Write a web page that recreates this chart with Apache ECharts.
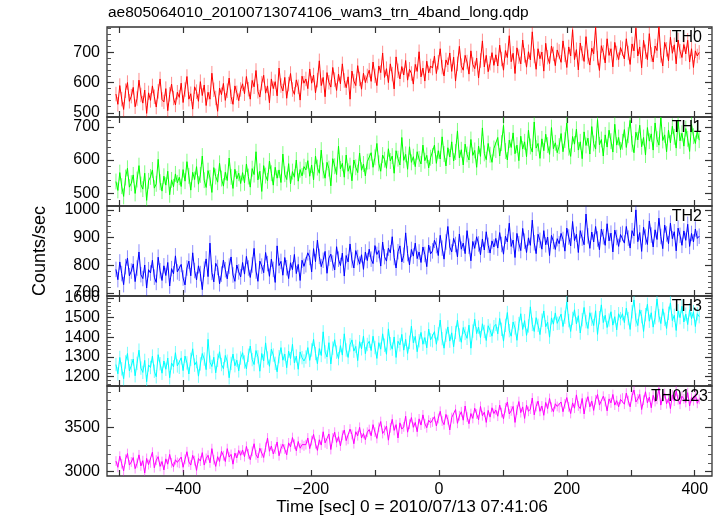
<!DOCTYPE html>
<html><head><meta charset="utf-8">
<script src="https://cdn.jsdelivr.net/npm/echarts@6/dist/echarts.min.js"></script>
<style>html,body{margin:0;padding:0;background:#fff}#c{width:723px;height:516px}</style>
</head><body><div id="c"></div>
<script>
// ---- data ----
const chartTitle = 'ae805064010_20100713074106_wam3_trn_4band_long.qdp';
const xTitle = 'Time [sec] 0 = 2010/07/13 07:41:06';
const yTitle = 'Counts/sec';
const bandNames = ['TH0', 'TH1', 'TH2', 'TH3', 'TH0123'];
const timeStart = -505;   // first bin time (s)
const timeStep = 3;       // bin width (s)
const bandErrors = [24, 24, 28, 34, 55];  // typical 1-sigma error per bin
const xTickLabels = [-400, -200, 0, 200, 400];
const xTickValues = [-500, -400, -300, -200, -100, 0, 100, 200, 300, 400];
const yTickLabels = [[500, 600, 700], [500, 600, 700], [700, 800, 900, 1000], [1200, 1300, 1400, 1500, 1600], [3000, 3500]];

const th0 = [562,528,590,545,511,573,600,538,555,584,520,547,608,559,532,575,498,566,541,589,553,519,571,612,544,536,580,507,561,595,549,526,568,
551,598,534,577,620,545,563,512,586,570,538,603,557,592,524,568,545,631,576,549,505,582,560,597,541,573,615,553,528,589,566,540,577,
596,563,620,578,545,607,586,640,571,552,598,624,565,589,533,612,580,603,556,648,590,572,617,548,595,630,577,561,609,586,542,621,598,
612,580,645,598,625,566,608,672,590,617,553,633,601,585,650,610,574,628,596,662,607,583,619,545,638,605,590,656,612,578,631,600,622,
641,604,668,622,590,655,633,698,617,646,600,662,628,579,685,639,612,653,625,673,608,644,630,595,660,637,702,619,648,605,671,632,655,
648,688,630,667,712,651,622,675,659,698,637,684,605,662,720,656,641,690,668,628,705,660,646,681,615,673,738,652,690,636,664,699,657,
692,655,724,678,641,706,683,755,669,697,630,715,686,662,741,690,651,702,675,768,688,644,712,679,701,638,730,684,663,721,695,656,708,
703,667,738,692,650,718,688,775,676,709,642,731,697,670,752,685,658,714,695,783,681,640,722,700,665,745,690,712,652,733,698,676,716,
712,678,745,698,660,728,705,780,688,718,649,740,702,676,762,693,668,721,706,785,690,655,733,710,672,750,697,725,662,741,704,683,726,695,740,668,712,650,705,688,700];

const th1 = [535,508,562,521,490,547,575,518,530,555,499,541,583,526,512,560,478,537,549,570,515,528,602,533,506,551,524,566,495,540,519,558,531,
548,520,571,536,595,552,509,563,541,580,527,555,612,539,517,568,546,502,577,550,533,590,544,521,563,538,606,549,514,572,543,560,529,
562,531,588,550,518,574,556,625,540,566,505,583,553,537,597,560,524,578,545,570,532,618,557,541,589,528,565,548,600,536,571,552,580,
570,598,551,585,540,612,577,560,630,568,545,593,574,522,604,581,556,642,573,590,548,615,566,583,537,600,578,562,621,569,588,552,595,
596,622,578,608,650,590,566,615,601,575,634,597,612,560,628,604,585,668,599,617,572,640,593,610,580,625,603,588,645,598,614,576,607,
612,645,590,628,603,670,618,582,637,609,655,597,624,688,606,631,585,648,617,600,662,614,629,578,642,611,697,620,601,650,616,593,635,
630,668,612,651,705,627,600,660,638,682,619,645,598,672,633,655,610,690,641,624,715,636,650,605,664,628,678,645,617,698,634,652,622,
642,680,625,660,712,637,611,671,648,693,630,655,604,685,644,666,618,701,650,633,722,646,662,612,676,639,690,657,624,708,645,668,631,
655,692,638,675,720,649,622,684,661,705,640,668,615,698,657,679,630,712,663,645,728,659,676,625,690,652,702,670,636,718,658,681,642,695,664,626,708,672,650,688,660];

const th2 = [785,748,812,770,730,795,826,762,779,805,741,790,848,766,752,801,718,784,772,818,757,738,829,780,745,798,763,810,725,788,769,834,776,
771,803,754,729,790,815,762,845,781,747,798,770,712,786,823,759,880,774,740,807,792,733,768,819,784,751,797,830,765,742,801,776,758,
810,768,832,790,756,801,861,779,742,815,797,773,846,806,760,822,785,738,870,799,814,764,828,791,752,809,784,839,770,803,745,818,796,
802,845,828,776,860,813,891,832,795,818,850,771,826,840,808,783,867,822,799,844,761,835,812,877,819,790,853,828,804,838,785,848,817,
858,822,806,871,839,853,797,884,831,815,862,845,903,828,790,849,870,812,836,917,842,801,857,833,880,824,848,810,866,839,795,873,841,
852,890,871,835,908,862,822,884,940,866,848,897,875,830,913,858,880,842,925,869,816,886,861,903,877,838,895,855,921,872,844,888,866,
897,862,918,875,840,905,884,952,868,891,828,915,878,853,933,887,846,899,872,963,881,842,912,890,858,925,874,902,835,908,886,857,896,
878,915,893,851,934,902,870,958,889,912,846,925,898,874,985,906,861,920,884,940,895,856,931,903,872,950,888,916,848,927,900,868,911,
915,880,940,898,862,925,906,1000,885,918,850,937,902,875,960,909,866,928,893,970,904,860,945,913,878,952,896,921,852,934,908,872,924,890,948,868,915,884,931,897,905];

const th3 = [1262,1215,1298,1240,1190,1275,1318,1230,1256,1290,1205,1268,1335,1244,1222,1283,1175,1260,1247,1305,1228,1200,1312,1266,1218,1280,1238,1295,1195,1270,1250,1322,1255,
1248,1296,1231,1305,1270,1214,1288,1342,1259,1277,1203,1265,1318,1290,1236,1390,1274,1252,1299,1220,1283,1327,1262,1241,1308,1279,1195,1268,1315,1256,1284,1230,1295,
1322,1275,1240,1309,1356,1287,1262,1333,1301,1228,1318,1280,1372,1295,1253,1340,1310,1268,1225,1302,1348,1284,1315,1246,1330,1292,1365,1270,1305,1238,1326,1297,1280,
1300,1348,1283,1336,1390,1318,1266,1343,1308,1428,1326,1300,1373,1265,1345,1388,1325,1292,1358,1310,1418,1336,1298,1362,1387,1330,1354,1282,1378,1342,1407,1317,1364,
1380,1333,1406,1348,1293,1373,1340,1418,1360,1314,1443,1368,1340,1402,1298,1380,1362,1415,1335,1390,1318,1375,1457,1372,1405,1327,1383,1425,1365,1399,1347,1442,1387,
1383,1429,1365,1418,1488,1393,1345,1411,1453,1381,1423,1352,1425,1488,1412,1375,1450,1420,1395,1462,1345,1432,1492,1419,1452,1399,1469,1430,1384,1459,1436,1406,1454,
1466,1418,1496,1441,1381,1461,1526,1434,1406,1478,1448,1385,1470,1520,1440,1485,1410,1458,1555,1466,1430,1500,1461,1414,1487,1534,1454,1477,1401,1499,1467,1524,1471,
1472,1518,1455,1502,1580,1485,1430,1496,1540,1468,1510,1422,1490,1552,1480,1445,1525,1492,1460,1535,1415,1500,1565,1475,1512,1450,1488,1530,1462,1505,1438,1520,1495,
1520,1475,1548,1495,1440,1530,1590,1488,1460,1540,1505,1430,1515,1568,1482,1525,1452,1500,1595,1510,1470,1545,1492,1445,1522,1575,1485,1512,1435,1535,1500,1558,1478,1518,1465,1540,1495,1530,1455,1520,1505];

const th0123 = [3120,3050,3175,3090,3010,3140,3205,3075,3110,3160,3035,3095,3190,3065,3125,2985,3150,3080,3100,3220,3045,3130,3170,3060,3115,3020,3145,3085,3195,3100,3055,3135,3105,
3095,3165,3050,3140,3225,3110,3075,3185,3125,3015,3150,3120,3215,3075,3150,3185,3100,3260,3135,3060,3170,3115,3230,3180,3115,3260,3165,3195,3085,3210,3155,3240,3185,
3245,3170,3285,3200,3135,3230,3315,3190,3155,3265,3210,3160,3275,3380,3230,3290,3200,3255,3335,3180,3260,3310,3255,3190,3325,3280,3385,3310,3235,3340,3265,3305,3290,
3305,3380,3260,3350,3420,3315,3240,3360,3300,3450,3325,3310,3425,3250,3380,3445,3330,3395,3290,3410,3470,3350,3365,3480,3420,3315,3450,3405,3500,3380,3430,3360,3445,
3475,3405,3530,3445,3375,3500,3565,3430,3465,3515,3355,3495,3590,3465,3530,3380,3550,3480,3505,3625,3445,3535,3610,3500,3555,3450,3595,3525,3640,3540,3495,3580,3550,
3560,3620,3515,3600,3680,3570,3530,3645,3585,3470,3610,3595,3700,3545,3630,3675,3580,3740,3615,3540,3655,3600,3715,3650,3585,3735,3630,3670,3555,3690,3615,3720,3655,
3695,3625,3750,3665,3595,3720,3785,3650,3685,3735,3555,3695,3790,3665,3730,3600,3750,3680,3705,3830,3640,3735,3795,3680,3740,3635,3780,3710,3825,3725,3675,3765,3735,
3720,3785,3675,3765,3835,3730,3655,3775,3715,3865,3740,3710,3825,3650,3780,3845,3730,3795,3690,3810,3870,3750,3735,3850,3790,3685,3820,3775,3870,3750,3800,3730,3815,
3830,3760,3885,3800,3730,3855,3920,3785,3820,3870,3700,3805,3900,3775,3840,3720,3860,3790,3815,3940,3750,3845,3880,3765,3825,3710,3865,3795,3910,3810,3760,3850,3820,3780,3890,3740,3835,3800,3870,3770,3815];

const bandValues = [th0, th1, th2, th3, th0123];

// ---- layout / style ----
const FONT = 'Liberation Sans, Arial, Helvetica, sans-serif';
const colors = ['#ff0000', '#00ff00', '#0000ff', '#00ffff', '#ff00ff'];
const errColors = ['rgba(255,0,0,0.45)', 'rgba(0,255,0,0.5)', 'rgba(0,0,255,0.45)', 'rgba(0,255,255,0.55)', 'rgba(255,0,255,0.45)'];
const panelTops = [27, 117, 206, 296, 386];
const panelHeights = [90, 89, 90, 90, 90];
const yRanges = [[486, 784], [461, 730], [689, 1014], [1153, 1610], [2952, 3965]];
const minorSteps = [20, 20, 20, 20, 100];
const xRange = [-519, 427];

function minorTicks(range, step) {
  const out = [];
  for (let v = Math.ceil(range[0] / step) * step; v <= range[1]; v += step) out.push(v);
  return out;
}
const fmtX = v => (v < 0 ? '\u2212' + Math.abs(v) : String(v));
const fmtY = v => String(v);

const grid = [], xAxis = [], yAxis = [], series = [];
for (let i = 0; i < 5; i++) {
  grid.push({ left: 107, right: 11, top: panelTops[i], height: panelHeights[i], show: true,
    borderColor: '#333', borderWidth: 1.3, backgroundColor: 'transparent' });
  const isLast = i === 4;
  ['bottom', 'top'].forEach(pos => {
    xAxis.push({ type: 'value', gridIndex: i, position: pos, min: xRange[0], max: xRange[1],
      axisLine: { show: false, onZero: false }, splitLine: { show: false },
      axisTick: { show: true, inside: true, length: 6, customValues: xTickValues, lineStyle: { color: '#333', width: 1.2 } },
      axisLabel: { show: isLast && pos === 'bottom', customValues: xTickLabels, formatter: fmtX, margin: 6, fontSize: 16, fontFamily: FONT, color: '#000' } });
  });
  const minors = minorTicks(yRanges[i], minorSteps[i]).filter(v => yTickLabels[i].indexOf(v) < 0);
  ['left', 'right'].forEach(pos => {
    yAxis.push({ type: 'value', gridIndex: i, position: pos, min: yRanges[i][0], max: yRanges[i][1],
      axisLine: { show: false, onZero: false }, splitLine: { show: false },
      axisTick: { show: true, inside: true, length: 7, customValues: yTickLabels[i], lineStyle: { color: '#333', width: 1.2 } },
      axisLabel: { show: pos === 'left', customValues: yTickLabels[i], formatter: fmtY, margin: 7, fontSize: 16, fontFamily: FONT, color: '#000' } });
    yAxis.push({ type: 'value', gridIndex: i, position: pos, min: yRanges[i][0], max: yRanges[i][1],
      axisLine: { show: false, onZero: false }, splitLine: { show: false }, axisLabel: { show: false },
      axisTick: { show: true, inside: true, length: 4, customValues: minors, lineStyle: { color: '#555', width: 1 } } });
  });
  const pts = bandValues[i].map((v, k) => [timeStart + k * timeStep, v, bandErrors[i]]);
  const ec = errColors[i];
  series.push({ type: 'custom', xAxisIndex: 2 * i, yAxisIndex: 4 * i, data: pts, clip: true, silent: true,
    encode: { x: 0, y: 1 }, animation: false, z: 1,
    renderItem: (params, api) => {
      const x = api.value(0), y = api.value(1), e = api.value(2);
      const a = api.coord([x, y - e]), b = api.coord([x, y + e]);
      return { type: 'line', shape: { x1: a[0], y1: a[1], x2: b[0], y2: b[1] }, style: { stroke: ec, lineWidth: 1 } };
    } });
  series.push({ type: 'line', name: bandNames[i], xAxisIndex: 2 * i, yAxisIndex: 4 * i, z: 2,
    data: pts.map(p => [p[0], p[1]]),
    symbol: 'none', animation: false, clip: true,
    lineStyle: { color: colors[i], width: 1 } });
}

const graphic = [
  { type: 'text', left: 108, top: 5, style: { text: chartTitle, fontSize: 15.5, fontFamily: FONT, fill: '#000' } },
  { type: 'text', x: 40, y: 251, rotation: Math.PI / 2, style: { text: yTitle, fontSize: 18, fontFamily: FONT, fill: '#000', align: 'center', verticalAlign: 'middle' } },
  { type: 'text', x: 412, y: 507, style: { text: xTitle, fontSize: 17.3, fontFamily: FONT, fill: '#000', align: 'center', verticalAlign: 'middle' } }
];
const labelRight = [702, 702, 702, 702, 708];
for (let i = 0; i < 5; i++) {
  graphic.push({ type: 'text', x: labelRight[i], y: panelTops[i] + 11, z: 100,
    style: { text: bandNames[i], fontSize: 16, fontFamily: FONT, fill: '#000', align: 'right', verticalAlign: 'middle' } });
}

const chart = echarts.init(document.getElementById('c'), null, { renderer: 'canvas' });
chart.setOption({ animation: false, backgroundColor: '#fff', grid, xAxis, yAxis, series, graphic });
</script></body></html>
